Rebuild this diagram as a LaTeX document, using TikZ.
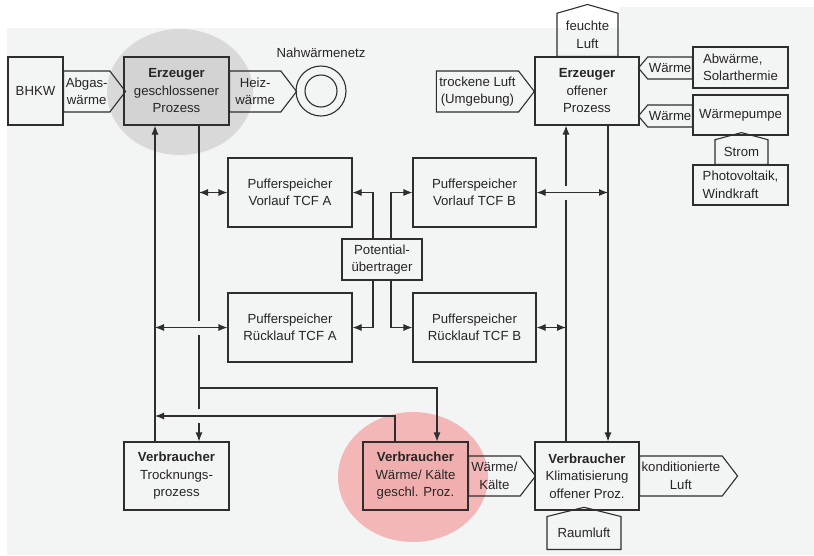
\documentclass[tikz,border=0pt]{standalone}
\usepackage{fontspec}
\setmainfont{Liberation Sans}
\usetikzlibrary{arrows.meta,shapes.symbols,backgrounds}
\definecolor{bgcol}{HTML}{F3F4F4}
\definecolor{linecol}{HTML}{2E2E2E}
\definecolor{txtcol}{HTML}{262626}
\definecolor{grybg}{HTML}{D9D9D9}
\definecolor{gryfill}{HTML}{D3D3D3}
\definecolor{pnkbg}{HTML}{F4B7B7}
\definecolor{pnkfill}{HTML}{F1AEAE}
\tikzset{
  blkbox/.style={rectangle,draw=linecol,line width=1.1pt,text=txtcol,align=center,inner sep=2pt,font=\fontsize{13.2}{17.5}\selectfont},
  grybox/.style={blkbox,fill=gryfill},
  pnkbox/.style={blkbox,fill=pnkfill},
  sigbox/.style={blkbox,signal,signal pointer angle=105},
  upsig/.style={blkbox,signal,signal to=north,signal pointer angle=148},
  diredge/.style={-{Latex[length=9pt,width=7pt]},line width=1.1pt,linecol},
  biedge/.style={{Latex[length=9pt,width=7pt]}-{Latex[length=9pt,width=7pt]},line width=1.1pt,linecol},
  plainedge/.style={line width=1.1pt,linecol},
}

\begin{document}
\begin{tikzpicture}[x=1pt,y=-1pt]
  \useasboundingbox (0,0) rectangle (814,555);
  % generators
  \node[blkbox,minimum width=55pt,minimum height=68pt] (bhkw) at (35.5,91) {BHKW};
  \node[grybox,minimum width=105pt,minimum height=68pt] (ezg) at (176.5,91) {{\bfseries Erzeuger}\\geschlossener\\Prozess};
  \node[blkbox,minimum width=104pt,minimum height=68pt] (ezo) at (587,91) {{\bfseries Erzeuger}\\offener\\Prozess};
  \node[sigbox,signal to=east,minimum width=62pt,minimum height=41pt,anchor=west] (abg) at (63,91.5) {Abgas-\\wärme};
  \node[sigbox,signal to=east,minimum width=67pt,minimum height=41pt,anchor=west] (hzw) at (229,91.5) {Heiz-\\wärme};
  \node[circle,draw=linecol,line width=1.1pt,minimum size=50pt,inner sep=0pt,
        label={[text=txtcol,font=\fontsize{13.2}{17.5}\selectfont,label distance=4pt]above:Nahwärmenetz}] (nwn) at (321,91) {};
  \node[circle,draw=linecol,line width=1.1pt,minimum size=32pt,inner sep=0pt] (nwni) at (nwn) {};
  \node[sigbox,signal to=east,minimum width=98pt,minimum height=41pt,anchor=east] (trl) at (535,91.5) {trockene Luft\\(Umgebung)};
  \node[upsig,minimum width=61pt,minimum height=50pt,anchor=south] (fl) at (587.5,57) {feuchte\\Luft};
  % heat sources
  \node[blkbox,align=left,minimum width=95pt,minimum height=41pt] (abw) at (740.5,67.5) {Abwärme,\\Solarthermie};
  \node[blkbox,minimum width=95pt,minimum height=40pt] (wp) at (740.5,115) {Wärmepumpe};
  \node[blkbox,align=left,minimum width=95pt,minimum height=40pt] (pv) at (740.5,185) {Photovoltaik,\\Windkraft};
  \node[sigbox,signal to=west,signal pointer angle=100,minimum width=54pt,minimum height=22pt,inner sep=1pt,anchor=east] (wm1) at (693,68) {Wärme};
  \node[sigbox,signal to=west,signal pointer angle=100,minimum width=54pt,minimum height=22pt,inner sep=1pt,anchor=east] (wm2) at (693,116) {Wärme};
  \node[upsig,signal pointer angle=150,minimum width=53pt,minimum height=30pt,anchor=south] (strom) at (741.5,165) {Strom};
  % storage
  \node[blkbox,minimum width=124pt,minimum height=69pt] (pvA) at (290,192.5) {Pufferspeicher\\Vorlauf TCF A};
  \node[blkbox,minimum width=123pt,minimum height=69pt] (pvB) at (474.5,192.5) {Pufferspeicher\\Vorlauf TCF B};
  \node[blkbox,minimum width=124pt,minimum height=69pt] (prA) at (290,327.5) {Pufferspeicher\\Rücklauf TCF A};
  \node[blkbox,minimum width=123pt,minimum height=69pt] (prB) at (474.5,327.5) {Pufferspeicher\\Rücklauf TCF B};
  \node[blkbox,minimum width=80pt,minimum height=41pt] (pue) at (382,259.5) {Potential-\\übertrager};
  % consumers
  \node[blkbox,minimum width=105pt,minimum height=68pt] (vtr) at (176.5,476) {{\bfseries Verbraucher}\\Trocknungs-\\prozess};
  \node[pnkbox,minimum width=105pt,minimum height=68pt] (vwk) at (415.5,476) {{\bfseries Verbraucher}\\Wärme/ Kälte\\geschl. Proz.};
  \node[blkbox,minimum width=104pt,minimum height=68pt] (vkl) at (587,476) {{\bfseries Verbraucher}\\Klimatisierung\\offener Proz.};
  \node[sigbox,signal to=east,minimum width=67pt,minimum height=40pt,anchor=west] (wk) at (468,476) {Wärme/\\Kälte};
  \node[sigbox,signal to=east,minimum width=98pt,minimum height=40pt,anchor=west] (kl) at (639,476) {konditionierte\\Luft};
  \node[upsig,signal pointer angle=152,minimum width=74pt,minimum height=40pt,anchor=south] (rl) at (584,550) {Raumluft};
  % guide coordinates
  \coordinate (busA) at (155,0);
  \coordinate (busB) at (199,0);
  \coordinate (busC) at (566,0);
  \coordinate (busD) at (608,0);
  \coordinate (puA) at (373,0);
  \coordinate (puB) at (391,0);
  \coordinate (hot) at (437,388);
  \coordinate (ret) at (395,416);
  \coordinate (gB1) at (199,321);
  \coordinate (gB2) at (199,335);
  \coordinate (gB3) at (199,409);
  \coordinate (gB4) at (199,423);
  \coordinate (gC1) at (566,186);
  \coordinate (gC2) at (566,200);
  % left side
  \draw[diredge] (vtr.north -| busA) -- (ezg.south -| busA);
  \draw[plainedge] (ezg.south -| busB) -- (gB1);
  \draw[plainedge] (gB2) -- (gB3);
  \draw[diredge] (gB4) -- (vtr.north -| busB);
  \draw[biedge] (busB |- pvA.west) -- (pvA.west);
  \draw[biedge] (busA |- prA.west) -- (prA.west);
  \draw[diredge] (busB |- hot) -- (hot) -- (hot |- vwk.north);
  \draw[diredge] (ret |- vwk.north) -- (ret) -- (busA |- ret);
  % right side
  \draw[plainedge] (vkl.north -| busC) -- (gC2);
  \draw[diredge] (gC1) -- (ezo.south -| busC);
  \draw[diredge] (ezo.south -| busD) -- (vkl.north -| busD);
  \draw[biedge] (pvB.east) -- (busD |- pvB.east);
  \draw[biedge] (prB.east) -- (busC |- prB.east);
  % potential transfer
  \draw[diredge] (pue.north -| puA) |- (pvA.east);
  \draw[diredge] (pue.north -| puB) |- (pvB.west);
  \draw[diredge] (pue.south -| puA) |- (prA.east);
  \draw[diredge] (pue.south -| puB) |- (prB.west);
  \begin{scope}[on background layer]
    \fill[bgcol] (7,28) rectangle (814,555);
    \fill[bgcol] (620,7) rectangle (814,28);
    \fill[grybg] (180,92) ellipse [x radius=73, y radius=63];
    \fill[pnkbg] (413,477) ellipse [x radius=75, y radius=65];
  \end{scope}
\end{tikzpicture}
\end{document}
